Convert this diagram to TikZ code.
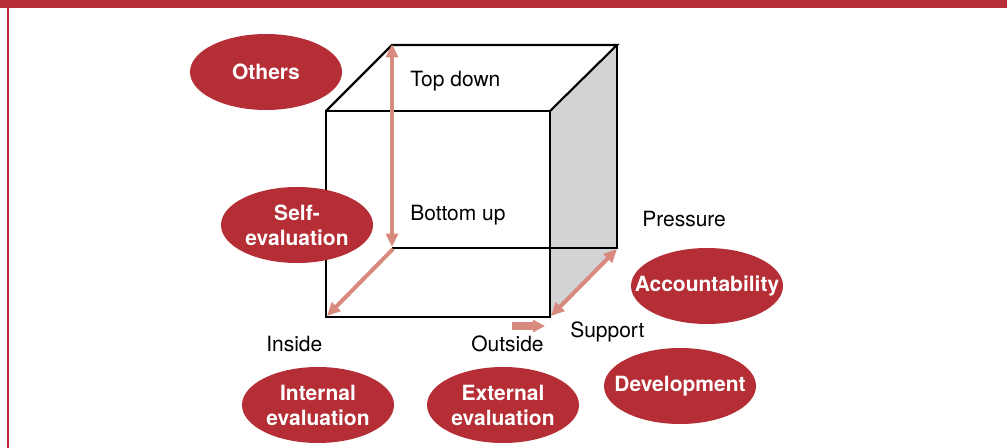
\documentclass[tikz,border=0pt]{standalone}
\usepackage{fontspec}
\setmainfont{TeX Gyre Heros}
\usetikzlibrary{shapes.geometric,arrows.meta}
\definecolor{brandred}{HTML}{B52D35}
\definecolor{arrowpink}{HTML}{D98A7F}
\definecolor{sidegray}{HTML}{D1D3D4}
\tikzset{
  blob/.style={ellipse, fill=brandred, draw=none, inner sep=0pt,
    minimum width=114pt, minimum height=57pt},
  blobtext/.style={text=white, font=\fontsize{15.75}{18.75}\selectfont\bfseries,
    align=center, inner sep=0pt},
  lbl/.style={font=\fontsize{15.75}{18.75}\selectfont, inner sep=0pt, anchor=base west},
  edge/.style={line width=1.6pt, line join=miter},
  flow/.style={draw=arrowpink, line width=3pt,
    arrows={-Triangle[length=10pt, width=9pt]}},
  flowboth/.style={draw=arrowpink, line width=3pt,
    arrows={Triangle[length=10pt, width=9pt]-Triangle[length=10pt, width=9pt]}}
}
\begin{document}
\begin{tikzpicture}[x=0.75pt, y=-0.75pt]
  \useasboundingbox (0,0) rectangle (1007,448);
  % frame: top band and left rule
  \fill[brandred] (0,0) rectangle (1007,8.5);
  \fill[brandred] (7,8) rectangle (9,448);

  % cube corners
  \coordinate (A) at (326,111);
  \coordinate (B) at (550,111);
  \coordinate (C) at (550,317);
  \coordinate (D) at (326,317);
  \coordinate (E) at (392,45);
  \coordinate (F) at (617,45);
  \coordinate (G) at (617,248);
  \coordinate (H) at (392,248);

  % shaded right face
  \fill[sidegray] (B) -- (F) -- (G) -- (C) -- cycle;
  % edges
  \draw[edge] (A) -- (B) -- (C) -- (D) -- cycle;
  \draw[edge] (A) -- (E) -- (F) -- (B);
  \draw[edge] (F) -- (G) -- (H);

  % direction arrows along the cube
  \coordinate (vt) at (392,44);
  \coordinate (vb) at (392,247);
  \draw[flowboth] (vt) -- (vb);
  \coordinate (ds) at (393,249);
  \coordinate (de) at (327,316);
  \draw[flow] (ds) -- (de);
  \coordinate (rs) at (617,249);
  \coordinate (re) at (551,316);
  \draw[flowboth] (rs) -- (re);
  \coordinate (ss) at (512,326);
  \coordinate (se) at (545,326);
  \draw[draw=arrowpink, line width=5.5pt,
    arrows={-Triangle[length=9pt, width=9pt]}] (ss) -- (se);

  % axis labels
  \node[lbl] (topdown)  at (410,87)  {Top down};
  \node[lbl] (bottomup) at (410,221) {Bottom up};
  \node[lbl] (pressure) at (642,227) {Pressure};
  \node[lbl] (support)  at (570,338) {Support};
  \node[lbl] (inside)   at (266,352) {Inside};
  \node[lbl] (outside)  at (471,352) {Outside};

  % category ellipses
  \node[blob] (others) at (266,72) {};
  \node[blobtext] (otherst) at (others) {Others};
  \node[blob] (selfev) at (297,225) {};
  \node[blobtext] (selfevt) at (selfev) {Self-\\evaluation};
  \node[blob] (account) at (707,286) {};
  \node[blobtext] (accountt) at (account) {Accountability};
  \node[blob] (develop) at (680,386) {};
  \node[blobtext] (developt) at (develop) {Development};
  \node[blob] (internal) at (318,405) {};
  \node[blobtext] (internalt) at (internal) {Internal\\evaluation};
  \node[blob] (external) at (503,405) {};
  \node[blobtext] (externalt) at (external) {External\\evaluation};
\end{tikzpicture}
\end{document}
